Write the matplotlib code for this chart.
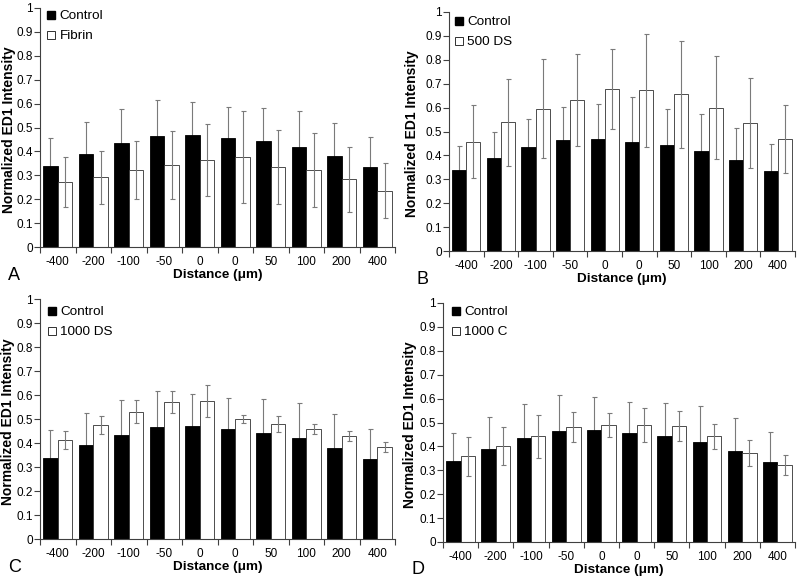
import matplotlib
matplotlib.use("Agg")
import matplotlib.pyplot as plt
import numpy as np
from matplotlib.lines import Line2D

plt.rcParams['font.family'] = ['Liberation Sans', 'DejaVu Sans']

categories = ["-400", "-200", "-100", "-50", "0", "0", "50", "100", "200", "400"]

control = [0.337, 0.390, 0.435, 0.465, 0.470, 0.457, 0.443, 0.420, 0.380, 0.335]
control_err = [0.118, 0.135, 0.143, 0.150, 0.135, 0.130, 0.140, 0.147, 0.140, 0.125]
control_err_b = [0.102, 0.109, 0.119, 0.138, 0.147, 0.189, 0.152, 0.152, 0.134, 0.111]

fibrin = [0.272, 0.292, 0.322, 0.343, 0.365, 0.377, 0.335, 0.322, 0.284, 0.235]
fibrin_err = [0.105, 0.110, 0.121, 0.142, 0.150, 0.193, 0.155, 0.155, 0.136, 0.115]

ds500 = [0.458, 0.538, 0.596, 0.631, 0.677, 0.673, 0.655, 0.600, 0.536, 0.468]
ds500_err = [0.153, 0.183, 0.208, 0.192, 0.168, 0.236, 0.222, 0.215, 0.187, 0.141]

ds1000 = [0.412, 0.475, 0.530, 0.572, 0.575, 0.500, 0.480, 0.458, 0.430, 0.383]
ds1000_err = [0.038, 0.038, 0.048, 0.045, 0.065, 0.017, 0.033, 0.022, 0.020, 0.020]

c1000 = [0.358, 0.403, 0.442, 0.482, 0.488, 0.490, 0.485, 0.442, 0.373, 0.323]
c1000_err = [0.080, 0.080, 0.090, 0.063, 0.050, 0.072, 0.063, 0.053, 0.054, 0.042]

# letter, axes box in px (x0, y0, x1, y1), ylabel right-edge offset px, legend offset px
panels = [
    ("A", [40, 8, 395, 247], -24, (6, 2), control, control_err, fibrin, fibrin_err, "Fibrin"),
    ("B", [449, 12, 795, 251], -30, (5, 4), control, control_err_b, ds500, ds500_err, "500 DS"),
    ("C", [40, 299, 395, 539], -25, (7, 7), control, control_err, ds1000, ds1000_err, "1000 DS"),
    ("D", [443, 303, 795, 542], -26, (8, 3), control, control_err, c1000, c1000_err, "1000 C"),
]

W, H = 800, 581
fig = plt.figure(figsize=(W / 100, H / 100), dpi=100)
spine_col = "#404040"
err_col = "#7a7a7a"
bw = 0.41

for letter, (x0, y0, x1, y1), ylo, (lx, ly), ctrl, cerr, trt, terr, tname in panels:
    wpx, hpx = x1 - x0, y1 - y0
    ax = fig.add_axes([x0 / W, (H - y1) / H, wpx / W, hpx / H])
    x = np.arange(len(categories))
    ax.bar(x - bw / 2, ctrl, bw, color="black", edgecolor="black", linewidth=0.6, zorder=2)
    ax.bar(x + bw / 2, trt, bw, color="white", edgecolor="#303030", linewidth=0.6, zorder=2)
    ax.errorbar(x - bw / 2, ctrl, yerr=cerr, fmt="none", ecolor=err_col,
                elinewidth=0.8, capsize=1.8, capthick=0.8, zorder=1)
    ax.errorbar(x + bw / 2, trt, yerr=terr, fmt="none", ecolor=err_col,
                elinewidth=0.8, capsize=1.8, capthick=0.8, zorder=3)
    ax.set_xlim(-0.5, len(categories) - 0.5)
    ax.set_ylim(0, 1)
    ax.set_yticks(np.arange(0, 1.01, 0.1))
    ax.set_yticklabels(["0"] + ["%.1f" % v for v in np.arange(0.1, 0.95, 0.1)] + ["1"])
    ax.set_xticks(np.arange(-0.5, len(categories), 1.0))
    ax.set_xticklabels([])
    ax.set_xticks(x, minor=True)
    ax.set_xticklabels(categories, minor=True)
    ax.tick_params(axis="x", which="minor", length=0, pad=6.5, labelsize=8.5)
    ax.tick_params(axis="x", which="major", length=4, direction="out", color=spine_col)
    ax.tick_params(axis="y", length=4, direction="out", color=spine_col, labelsize=8.5, pad=1)
    for s in ["top", "right"]:
        ax.spines[s].set_visible(False)
    for s in ["left", "bottom"]:
        ax.spines[s].set_color(spine_col)
        ax.spines[s].set_linewidth(0.8)
    ax.set_ylabel("Normalized ED1 Intensity", fontsize=10, fontweight="bold")
    ax.yaxis.set_label_coords(ylo / wpx, 0.49)
    ax.set_xlabel("Distance (\u03bcm)", fontsize=9.7, fontweight="bold", labelpad=0.5)
    handles = [
        Line2D([], [], marker="s", linestyle="none", markersize=6.3,
               markerfacecolor="black", markeredgecolor="black"),
        Line2D([], [], marker="s", linestyle="none", markersize=6.3,
               markerfacecolor="white", markeredgecolor="#303030", markeredgewidth=0.7),
    ]
    ax.legend(handles, ["Control", tname], loc="upper left", frameon=False,
              fontsize=9.7, handlelength=0.8, handletextpad=0.2, borderaxespad=0,
              borderpad=0, labelspacing=0.55,
              bbox_to_anchor=(lx / wpx, 1 - ly / hpx))
    fig.text((x0 - 32) / W, (H - (y1 + 28)) / H, letter, fontsize=13, va="center", ha="left")

fig.savefig("out.png", dpi=100)
